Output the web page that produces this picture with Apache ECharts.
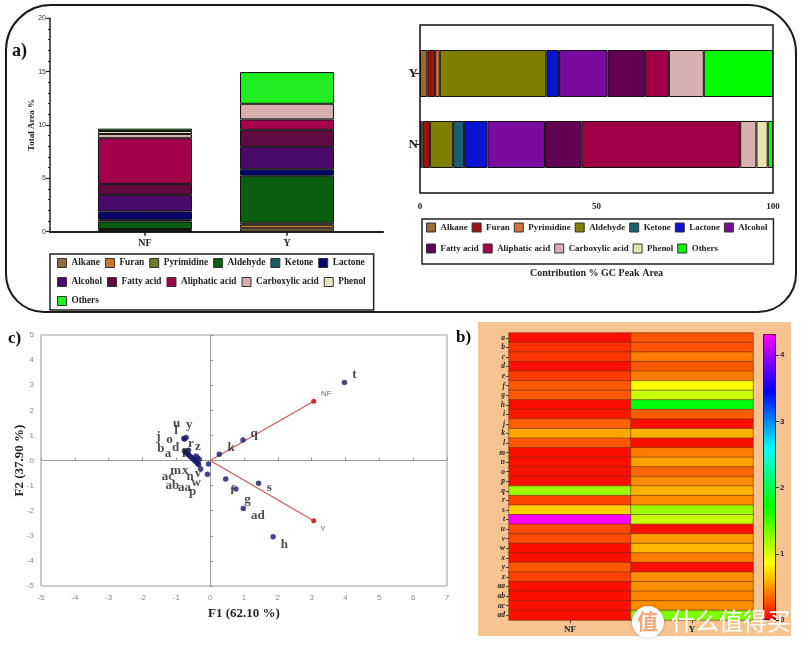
<!DOCTYPE html>
<html><head><meta charset="utf-8">
<script src="https://cdn.jsdelivr.net/npm/echarts@6/dist/echarts.min.js"></script>
<style>html,body{margin:0;padding:0;background:#fff}#c{width:802px;height:648px}</style>
</head><body><div id="c"></div>
<script>
// ---------- Panel a (left): total area % ----------
const classes = ['Alkane','Furan','Pyrimidine','Aldehyde','Ketone','Lactone','Alcohol','Fatty acid','Aliphatic acid','Carboxylic acid','Phenol','Others'];
const samplesA = ['NF','Y'];
const areaNF = [0.07, 0.18, 0, 0.70, 0.16, 0.78, 1.56, 1.03, 4.28, 0.40, 0.28, 0.22];
const areaY  = [0.32, 0.33, 0.20, 4.40, 0, 0.60, 2.10, 1.60, 0.97, 1.47, 0, 2.97];
const colorsA = ['#8d6c43','#c9782f','#6f7a2c','#0a5e10','#1b5e60','#05056e','#4a0a6c','#5f0a40','#a3004a','#d6aeae','#e6e2c4','#22ee22'];
const areaAxisMax = 20, areaAxisStep = 5;
// ---------- Panel a (right): contribution % ----------
const samplesB = ['N','Y'];
const pctN = [0.7, 2.1, 0, 6.6, 3.1, 6.6, 16.3, 10.4, 44.9, 4.6, 3.2, 1.5];
const pctY = [2.1, 2.2, 1.3, 30.2, 0, 3.6, 13.7, 10.7, 6.7, 9.9, 0, 19.6];
const colorsB = ['#996a3c','#a01212','#d2743a','#7f7f00','#1a6070','#0a14d0','#7a0aa0','#640052','#a00046','#d9b0b0','#e8e4b0','#00ff00'];
const pctTicks = [0, 50, 100];
// ---------- Panel c: PCA biplot ----------
const pcaNames = ['a','b','c','d','e','f','g','h','i','j','k','l','m','n','o','p','q','r','s','t','u','v','w','x','y','z','aa','ab','ac','ad'];
const pcaF1 = [-0.60,-0.68,-0.48,-0.64,-0.52, 0.46, 0.76, 1.86,-0.56,-0.76, 0.27,-0.75,-0.44,-0.28,-0.72,-0.32, 0.97,-0.64, 1.43, 3.97,-0.78,-0.05,-0.08,-0.40,-0.71,-0.42,-0.37,-0.34,-0.36, 0.98];
const pcaF2 = [ 0.18, 0.28, 0.03, 0.23, 0.08,-0.74,-1.14,-3.04, 0.13, 0.38, 0.25, 0.86,-0.02,-0.34, 0.33, 0.04, 0.82, 0.41,-0.91, 3.11, 0.88,-0.14,-0.55,-0.08, 0.92, 0.18, 0.11,-0.17,-0.13,-1.91];
const labelNames = ['t','q','k','s','f','g','ad','h','j','o','d','b','a','u','l','y','r','z','i','e','m','x','ac','n','v','w','ab','aa','p'];
const labelF1 = [4.26, 1.30, 0.62, 1.75, 0.66, 1.10, 1.41, 2.19,-1.53,-1.20,-1.02,-1.46,-1.25,-0.99,-1.01,-0.62,-0.57,-0.36,-0.78,-0.67,-1.02,-0.74,-1.25,-0.59,-0.36,-0.41,-1.12,-0.76,-0.52];
const labelF2 = [3.42, 1.06, 0.50,-1.10,-1.19,-1.55,-2.19,-3.35, 0.95, 0.82, 0.53, 0.48, 0.26, 1.46, 1.19, 1.43, 0.66, 0.57, 0.29, 0.40,-0.42,-0.42,-0.64,-0.66,-0.53,-0.90,-0.99,-1.10,-1.23];
const loadNames = ['NF','Y'];
const loadF1 = [3.06, 3.06];
const loadF2 = [2.36, -2.40];
const loadLabelF1 = [3.43, 3.33];
const loadLabelF2 = [2.65, -2.72];
// ---------- Panel b: heatmap ----------
const hmRows = pcaNames;
const hmCols = ['NF','Y'];
const hmNF = [0.05,0.16,0.18,0.05,0.20,0.30,0.29,0.04,0.08,0.33,0.56,0.30,0.05,0.05,0.05,0.05,1.20,0.23,0.70,4.30,0.25,0.25,0.05,0.05,0.30,0.22,0.05,0.05,0.05,0.05];
const hmY  = [0.28,0.28,0.42,0.30,0.42,0.87,1.05,1.78,0.32,0.05,0.60,0.05,0.42,0.55,0.35,0.47,0.60,0.47,1.20,1.05,0.05,0.53,0.62,0.42,0.05,0.48,0.48,0.45,0.48,1.30];
const cbMax = 4.32;
const hsvColors = ['#ff0000','#ffff00','#00ff00','#00ffff','#0000ff','#ff00ff'];

const SERIF = '"Liberation Serif","Times New Roman",serif';
const SANS = '"Liberation Sans",Arial,sans-serif';
const chart = echarts.init(document.getElementById('c'), null, {renderer:'canvas'});

const series = [];
classes.forEach((c, i) => {
  series.push({type:'bar', name:c, xAxisIndex:1, yAxisIndex:1, stack:'area', barWidth:94,
    data:[areaNF[i] || '-', areaY[i] || '-'],
    itemStyle:{color:colorsA[i], borderColor:'#111', borderWidth:1}});
});
classes.forEach((c, i) => {
  series.push({type:'bar', name:c + '\u200b', xAxisIndex:3, yAxisIndex:3, stack:'pct', barWidth:47,
    data:[pctN[i] || '-', pctY[i] || '-'],
    itemStyle:{color:colorsB[i], borderColor:'#111', borderWidth:1}});
});
// PCA loadings lines
loadNames.forEach((n, i) => {
  series.push({type:'line', xAxisIndex:4, yAxisIndex:4, silent:true, z:3,
    lineStyle:{color:'#c8595a', width:1.2}, symbol:'circle', symbolSize:5,
    itemStyle:{color:'#d42a2a'},
    data:[{value:[0,0], symbolSize:0}, [loadF1[i], loadF2[i]]]});
});
series.push({type:'scatter', xAxisIndex:4, yAxisIndex:4, symbolSize:5.5, z:4,
  itemStyle:{color:'#1a1a6a'},
  data:pcaNames.map((n,i)=>({name:n, value:[pcaF1[i], pcaF2[i]]}))});
series.push({type:'scatter', xAxisIndex:4, yAxisIndex:4, symbolSize:0, silent:true, z:5,
  label:{show:true, position:'inside', formatter:'{b}', fontFamily:SERIF, fontWeight:'bold', fontSize:13, color:'#1b1b1b'},
  data:labelNames.map((n,i)=>({name:n, value:[labelF1[i], labelF2[i]]}))});
series.push({type:'scatter', xAxisIndex:4, yAxisIndex:4, symbolSize:0, silent:true, z:5,
  label:{show:true, position:'inside', formatter:'{b}', fontFamily:SANS, fontSize:8, color:'#444'},
  data:loadNames.map((n,i)=>({name:n, value:[loadLabelF1[i], loadLabelF2[i]]}))});
// heatmap
const hmData = [];
hmRows.forEach((r, i) => { hmData.push([0, i, hmNF[i]]); hmData.push([1, i, hmY[i]]); });
const hmIndex = series.length;
series.push({type:'heatmap', xAxisIndex:6, yAxisIndex:6, data:hmData,
  itemStyle:{borderColor:'#6b3216', borderWidth:0.6}});
// colorbar
series.push({type:'bar', xAxisIndex:7, yAxisIndex:7, barWidth:'100%', silent:true, data:[cbMax],
  itemStyle:{borderColor:'#5a1030', borderWidth:1,
    color:new echarts.graphic.LinearGradient(0,1,0,0, hsvColors.map((c,i)=>({offset:i/(hsvColors.length-1), color:c})))}});

const noSplit = {show:false};
const legendA = [];
classes.forEach((c,i)=>{ legendA.push(c); if (c==='Lactone') legendA.push(''); if (c==='Phenol') legendA.push('\n'); });
const legendB = [];
classes.forEach((c,i)=>{ legendB.push(c + '\u200b'); if (c==='Alcohol') legendB.push(''); });

const option = {
  animation:false,
  backgroundColor:'#ffffff',
  grid:[
    {left:50, top:18.3, width:333, height:213.4, outerBoundsMode:'none'},
    {left:74, top:18.3, width:284, height:213.4, outerBoundsMode:'none'},
    {left:420, top:25, width:353, height:168, show:true, borderColor:'#111', borderWidth:1.5, outerBoundsMode:'none'},
    {left:420, top:38, width:353, height:142, outerBoundsMode:'none'},
    {left:41, top:335, width:406, height:251, show:true, borderColor:'#9a9a9a', borderWidth:1, outerBoundsMode:'none'},
    {left:509, top:333, width:244, height:287, outerBoundsMode:'none'},
    {left:763, top:334, width:13, height:286, outerBoundsMode:'none'}
  ],
  xAxis:[
    {gridIndex:0, type:'value', min:0, max:1, axisLine:{show:true, onZero:false, lineStyle:{color:'#222', width:2}}, axisTick:{show:false}, axisLabel:{show:false}, splitLine:noSplit},
    {gridIndex:1, type:'category', data:samplesA, axisLine:{show:false}, axisTick:{show:true, alignWithLabel:true, length:4, lineStyle:{color:'#222', width:1.5}},
      axisLabel:{fontFamily:SERIF, fontWeight:'bold', fontSize:10, color:'#222', margin:7}, splitLine:noSplit},
    {gridIndex:2, type:'value', min:0, max:100, interval:50, axisLine:{show:false}, axisTick:{show:false},
      axisLabel:{fontFamily:SERIF, fontWeight:'bold', fontSize:9, color:'#222', margin:9, customValues:pctTicks}, splitLine:noSplit,
      name:'Contribution % GC Peak Area', nameLocation:'middle', nameGap:75, nameMoveOverlap:false, nameTextStyle:{fontFamily:SERIF, fontWeight:'bold', fontSize:10, color:'#222'}},
    {gridIndex:3, type:'value', min:0, max:100, show:false, splitLine:noSplit},
    {gridIndex:4, type:'value', min:-5, max:7, interval:1, position:'bottom', axisLine:{show:false, onZero:false}, axisTick:{show:false},
      axisLabel:{fontFamily:SANS, fontSize:8, color:'#8a8a8a', margin:8}, splitLine:noSplit,
      name:'F1 (62.10 %)', nameLocation:'middle', nameGap:21, nameMoveOverlap:false, nameTextStyle:{fontFamily:SERIF, fontWeight:'bold', fontSize:13, color:'#222'}},
    {gridIndex:4, type:'value', min:-5, max:7, interval:1, position:'top', axisLine:{show:true, onZero:true, lineStyle:{color:'#9a9a9a', width:1}},
      axisTick:{show:true, inside:false, length:3, lineStyle:{color:'#9a9a9a'}}, axisLabel:{show:false}, splitLine:noSplit},
    {gridIndex:5, type:'category', data:hmCols, axisLine:{show:false}, axisTick:{show:true, alignWithLabel:true, length:3, lineStyle:{color:'#444'}},
      axisLabel:{fontFamily:SERIF, fontWeight:'bold', fontSize:9, color:'#222', margin:5}, splitLine:noSplit},
    {gridIndex:6, type:'category', data:[''], show:false}
  ],
  yAxis:[
    {gridIndex:0, type:'value', min:0, max:areaAxisMax, interval:areaAxisStep, axisLine:{show:true, lineStyle:{color:'#222', width:1.5}},
      axisTick:{show:true, length:4, lineStyle:{color:'#222', width:1.2}}, minorTick:{show:true, splitNumber:5, length:2, lineStyle:{color:'#222'}},
      axisLabel:{fontFamily:SANS, fontSize:7, color:'#333', margin:4}, splitLine:noSplit, minorSplitLine:noSplit,
      name:'Total Area %', nameLocation:'middle', nameGap:14, nameMoveOverlap:false, nameTextStyle:{fontFamily:SERIF, fontWeight:'bold', fontSize:9, color:'#222'}},
    {gridIndex:1, type:'value', min:0, max:areaAxisMax, show:false, splitLine:noSplit},
    {gridIndex:2, type:'value', min:0, max:1, show:false, splitLine:noSplit},
    {gridIndex:3, type:'category', data:samplesB, axisLine:{show:false}, axisTick:{show:true, alignWithLabel:true, length:5, lineStyle:{color:'#222', width:1.2}},
      axisLabel:{fontFamily:SERIF, fontWeight:'bold', fontSize:13, color:'#222', margin:2}, splitLine:noSplit},
    {gridIndex:4, type:'value', min:-5, max:5, interval:1, position:'left', axisLine:{show:false, onZero:false}, axisTick:{show:false},
      axisLabel:{fontFamily:SANS, fontSize:8, color:'#8a8a8a', margin:7}, splitLine:noSplit,
      name:'F2 (37.90 %)', nameLocation:'middle', nameGap:15, nameMoveOverlap:false, nameTextStyle:{fontFamily:SERIF, fontWeight:'bold', fontSize:13, color:'#222'}},
    {gridIndex:4, type:'value', min:-5, max:5, interval:1, position:'right', axisLine:{show:true, onZero:true, lineStyle:{color:'#9a9a9a', width:1}},
      axisTick:{show:true, length:3, lineStyle:{color:'#9a9a9a'}}, axisLabel:{show:false}, splitLine:noSplit},
    {gridIndex:5, type:'category', data:hmRows, inverse:true, axisLine:{show:false}, axisTick:{show:true, alignWithLabel:true, length:3, lineStyle:{color:'#444'}},
      axisLabel:{fontFamily:SERIF, fontWeight:'bold', fontStyle:'italic', fontSize:7.5, color:'#222', margin:4, interval:0}, splitLine:noSplit},
    {gridIndex:6, type:'value', min:0, max:cbMax, interval:1, position:'right', axisLine:{show:false}, axisTick:{show:true, length:3, lineStyle:{color:'#333'}},
      axisLabel:{fontFamily:SANS, fontWeight:'bold', fontSize:8, color:'#333', margin:4, showMaxLabel:false}, splitLine:noSplit}
  ],
  visualMap:[{type:'continuous', show:false, min:0, max:cbMax, seriesIndex:hmIndex, dimension:2, inRange:{color:hsvColors}}],
  legend:[
    {left:50, top:254, width:700, orient:'horizontal', data:legendA, padding:[2,8,2,7], itemGap:5, itemWidth:9, itemHeight:9, icon:'rect',
      borderColor:'#222', borderWidth:1.5, itemStyle:{borderColor:'#333', borderWidth:1},
      textStyle:{fontFamily:SERIF, fontWeight:'bold', fontSize:9.3, color:'#222', lineHeight:14}, selectedMode:false},
    {left:422, top:219, width:700, orient:'horizontal', data:legendB, padding:[0,6,7,4], itemGap:4, itemWidth:9, itemHeight:9, icon:'rect',
      borderColor:'#222', borderWidth:1.5, itemStyle:{borderColor:'#333', borderWidth:1},
      textStyle:{fontFamily:SERIF, fontWeight:'bold', fontSize:8.9, color:'#222', lineHeight:17}, selectedMode:false,
      formatter:n=>n.replace(/\u200b/g,'')}
  ],
  graphic:[
    {type:'rect', z:-10, shape:{x:6, y:5, width:790, height:307, r:[45,48,38,38]}, style:{fill:'none', stroke:'#1a1a1a', lineWidth:2}},
    {type:'rect', z:-10, shape:{x:478, y:322, width:313, height:314}, style:{fill:'#f6c391'}},
    {type:'text', z:10, x:12, y:42, style:{text:'a)', font:'bold 18px '+SERIF, fill:'#111'}},
    {type:'text', z:10, x:8, y:330, style:{text:'c)', font:'bold 17px '+SERIF, fill:'#111'}},
    {type:'text', z:10, x:456, y:329, style:{text:'b)', font:'bold 17px '+SERIF, fill:'#111'}},
    {type:'circle', z:100, shape:{cx:648, cy:622, r:16}, style:{fill:'#ffffff', shadowColor:'rgba(0,0,0,0.25)', shadowBlur:3}},
    {type:'text', z:101, x:637, y:611, style:{text:'值', font:'bold 21px "Noto Sans CJK SC"', fill:'#f0a878'}},
    {type:'text', z:100, x:671, y:609, style:{text:'什么值得买', font:'24px "Noto Sans CJK SC"', fill:'#ffffff', shadowColor:'rgba(0,0,0,0.45)', shadowBlur:3}}
  ],
  series:series
};
chart.setOption(option);
</script></body></html>
